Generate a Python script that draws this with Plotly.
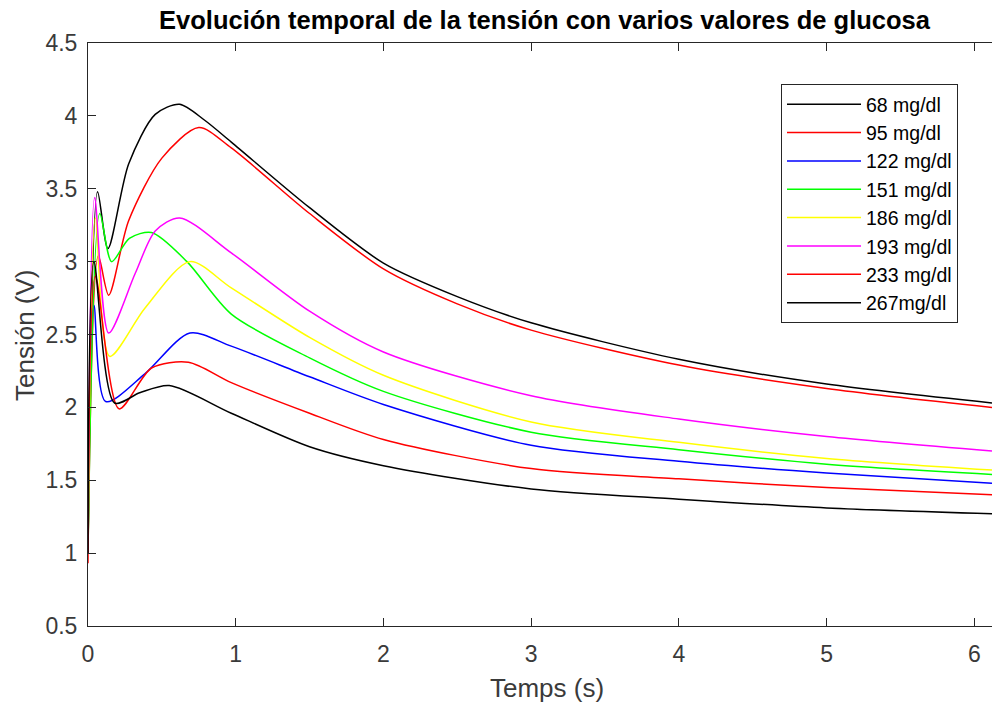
import plotly.graph_objects as go

# ---- data ----
labels = ["68 mg/dl", "95 mg/dl", "122 mg/dl", "151 mg/dl", "186 mg/dl", "193 mg/dl", "233 mg/dl", "267mg/dl"]
colors = ["#000000", "#ff0000", "#0000ff", "#00ff00", "#ffff00", "#ff00ff", "#ff0000", "#000000"]

t_68 = [0, 0.065, 0.135, 0.275, 0.455, 0.62, 0.79, 0.97, 1.5, 2.0, 2.5, 3.0, 4.0, 5.0, 6.12]
v_68 = [1.0, 3.48, 3.09, 3.67, 4.01, 4.08, 3.97, 3.82, 3.37, 2.99, 2.76, 2.58, 2.33, 2.16, 2.03]

t_95 = [0, 0.07, 0.14, 0.275, 0.5, 0.75, 0.97, 1.5, 2.0, 2.5, 3.0, 4.0, 5.0, 6.12]
v_95 = [1.0, 3.04, 2.77, 3.28, 3.71, 3.92, 3.78, 3.33, 2.95, 2.71, 2.53, 2.29, 2.13, 2.00]

t_122 = [0, 0.04, 0.12, 0.385, 0.69, 0.97, 1.5, 2.0, 3.0, 4.0, 5.0, 6.12]
v_122 = [1.0, 2.7, 2.04, 2.23, 2.51, 2.42, 2.21, 2.02, 1.74, 1.63, 1.55, 1.48]

t_151 = [0, 0.08, 0.16, 0.28, 0.43, 0.67, 0.97, 1.5, 2.0, 3.0, 4.0, 5.0, 6.12]
v_151 = [1.0, 3.33, 3.0, 3.16, 3.2, 3.0, 2.64, 2.34, 2.11, 1.83, 1.71, 1.61, 1.54]

t_186 = [0, 0.05, 0.147, 0.385, 0.69, 0.97, 1.5, 2.0, 3.0, 4.0, 5.0, 6.12]
v_186 = [1.0, 3.3, 2.35, 2.68, 3.0, 2.82, 2.48, 2.22, 1.90, 1.76, 1.65, 1.57]

t_193 = [0, 0.045, 0.14, 0.32, 0.455, 0.62, 0.97, 1.5, 2.0, 3.0, 4.0, 5.0, 6.12]
v_193 = [1.0, 3.44, 2.51, 2.92, 3.21, 3.30, 3.06, 2.66, 2.38, 2.08, 1.92, 1.80, 1.70]

t_233 = [0, 0.05, 0.21, 0.43, 0.68, 0.97, 1.5, 2.0, 3.0, 4.0, 5.0, 6.12]
v_233 = [0.93, 2.9, 1.99, 2.27, 2.31, 2.17, 1.96, 1.78, 1.58, 1.51, 1.45, 1.40]

t_267 = [0, 0.04, 0.18, 0.35, 0.55, 0.97, 1.5, 2.0, 3.0, 4.0, 5.0, 6.12]
v_267 = [1.0, 3.0, 2.03, 2.10, 2.15, 1.96, 1.73, 1.60, 1.44, 1.37, 1.31, 1.27]

times = [t_68, t_95, t_122, t_151, t_186, t_193, t_233, t_267]
values = [v_68, v_95, v_122, v_151, v_186, v_193, v_233, v_267]

x_ticks = [0, 1, 2, 3, 4, 5, 6]
y_ticks = [0.5, 1, 1.5, 2, 2.5, 3, 3.5, 4, 4.5]

title_text = "Evolución temporal de la tensión con varios valores de glucosa"
x_label = "Temps (s)"
y_label = "Tensión (V)"

# ---- figure ----
W, H = 992, 702
ML, MR, MT, MB = 88, 0, 43, 76
FONT = "Liberation Sans, Arial, sans-serif"
AX = "#262626"
TXT = "#3a3a3a"

fig = go.Figure()
for t, v, name, c in zip(times, values, labels, colors):
    fig.add_trace(go.Scatter(
        x=t, y=v, mode="lines", name=name,
        line=dict(color=c, width=1.5, shape="spline", smoothing=0.8),
    ))

axis_common = dict(
    showgrid=False, zeroline=False, showline=True, linecolor=AX, linewidth=1,
    ticks="inside", ticklen=8, tickcolor=AX, tickwidth=1,
    tickfont=dict(family=FONT, size=23, color=TXT),
)

fig.update_layout(
    width=W, height=H,
    margin=dict(l=ML, r=MR, t=MT, b=MB, pad=0),
    paper_bgcolor="white", plot_bgcolor="white",
    font=dict(family=FONT),
    title=dict(text="<b>" + title_text + "</b>", x=0.505, xref="paper",
               y=1 - 20 / H, yref="container", xanchor="center", yanchor="middle",
               font=dict(family=FONT, size=25.5, color="#000000")),
    xaxis=dict(range=[0, 6.12], tickvals=x_ticks, mirror="ticks",
               ticklabelstandoff=7, **axis_common),
    yaxis=dict(range=[0.5, 4.5], tickvals=y_ticks, ticktext=[("%g" % v) for v in y_ticks],
               mirror=False, ticklabelstandoff=5, **axis_common),
    showlegend=True,
    legend=dict(x=(781 - ML) / (W - ML - MR), y=(H - MB - 84) / (H - MT - MB),
                xanchor="left", yanchor="top",
                bgcolor="white", bordercolor=AX, borderwidth=1,
                font=dict(family=FONT, size=19.5, color="#000000"),
                itemwidth=74, tracegroupgap=0),
    annotations=[
        dict(text=x_label, xref="paper", yref="paper",
             x=(547 - ML) / (W - ML - MR), y=-(688 - (H - MB)) / (H - MT - MB),
             xanchor="center", yanchor="middle", showarrow=False,
             font=dict(family=FONT, size=26, color=TXT)),
        dict(text=y_label, xref="paper", yref="paper", textangle=-90,
             x=-(ML - 25) / (W - ML - MR), y=(H - MB - 335) / (H - MT - MB),
             xanchor="center", yanchor="middle", showarrow=False,
             font=dict(family=FONT, size=26, color=TXT)),
    ],
)

fig.write_html("out.html")
